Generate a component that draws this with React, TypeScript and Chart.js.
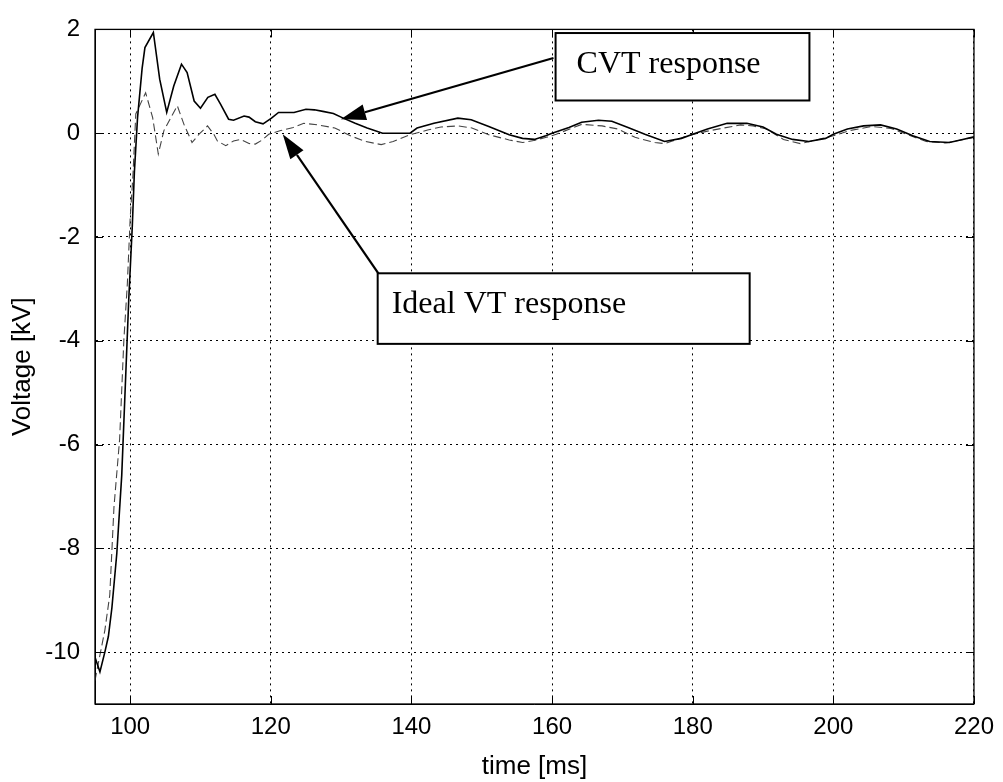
import React, { useEffect, useRef } from "react";
import { Chart, registerables } from "chart.js";

Chart.register(...registerables);

// CVT secondary voltage (solid trace)
const cvtTime = [
  95.0, 95.7, 96.4, 96.9, 97.4, 98.1, 98.8, 99.3, 99.8, 100.3, 100.6, 101.05,
  101.7, 102.1, 103.3, 104.2, 105.2, 106.2, 107.3, 108.1, 109.1, 110.0, 111.05,
  112.05, 112.85, 114.0, 114.7, 116.2, 116.9, 117.8, 118.9, 120.1, 121.1, 123.3,
  125.0, 126.2, 127.4, 128.9, 130.3, 132.0, 133.7, 135.9, 139.8, 140.8, 143.2,
  146.6, 148.5, 151.0, 153.9, 155.8, 157.5, 159.1, 160.0, 162.4, 164.2, 166.6,
  168.5, 170.8, 173.2, 176.0, 178.4, 180.0, 182.1, 184.9, 187.7, 190.0, 191.9,
  194.2, 196.5, 198.9, 200.0, 202.0, 204.3, 206.7, 209.0, 211.3, 213.7, 216.5,
  218.4, 220.0,
];
const cvtVoltage = [
  -10.1, -10.38, -10.0, -9.7, -9.15, -8.1, -6.6, -4.9, -3.2, -1.8, -0.75, 0.3,
  1.25, 1.65, 1.94, 1.04, 0.4, 0.91, 1.33, 1.17, 0.62, 0.48, 0.69,
  0.75, 0.56, 0.27, 0.25, 0.33, 0.31, 0.22, 0.18, 0.29, 0.4, 0.4,
  0.46, 0.45, 0.42, 0.38, 0.29, 0.19, 0.1, 0.0, 0.0, 0.1, 0.19,
  0.29, 0.26, 0.13, -0.03, -0.1, -0.12, -0.05, 0.0, 0.11, 0.21, 0.25,
  0.23, 0.11, -0.02, -0.16, -0.1, -0.02, 0.08, 0.19, 0.19, 0.12, -0.02,
  -0.12, -0.16, -0.1, -0.02, 0.08, 0.14, 0.16, 0.08, -0.05, -0.16, -0.18,
  -0.12, -0.07,
];

// Ideal VT secondary voltage (dashed trace)
const idealTime = [
  95.0, 95.2, 96.4, 97.1, 97.7, 98.5, 99.1, 99.6, 100.0, 100.4, 100.8, 102.2,
  103.2, 104.0, 104.8, 106.7, 107.65, 108.8, 109.8, 111.0, 111.9, 112.4, 113.6,
  114.7, 115.7, 116.9, 117.8, 118.8, 119.7, 121.4, 123.2, 124.7, 126.7, 129.1,
  131.5, 133.5, 135.7, 137.4, 139.8, 142.3, 144.2, 146.6, 148.6, 151.0, 153.9,
  155.8, 157.4, 159.2, 160.6, 164.2, 167.1, 169.4, 171.8, 174.6, 176.0, 179.3,
  182.1, 186.8, 188.6, 190.5, 192.9, 195.3, 197.6, 200.0, 202.3, 205.5, 208.2,
  210.8, 213.2, 216.0, 218.5, 220.0,
];
const idealVoltage = [
  -10.55, -10.4, -9.58, -8.9, -7.2, -5.9, -4.0, -2.9, -1.65, -0.8, 0.37, 0.78,
  0.3, -0.4, 0.05, 0.53, 0.17, -0.18, -0.02, 0.14, -0.02, -0.15, -0.24,
  -0.15, -0.12, -0.2, -0.21, -0.13, -0.02, 0.05, 0.11, 0.19, 0.16, 0.1,
  -0.06, -0.16, -0.22, -0.16, -0.03, 0.06, 0.12, 0.14, 0.1, -0.03, -0.13,
  -0.18, -0.14, -0.08, -0.02, 0.17, 0.14, 0.08, -0.08, -0.18, -0.2, -0.05,
  0.04, 0.16, 0.14, 0.08, -0.12, -0.2, -0.13, -0.05, 0.05, 0.13, 0.09,
  -0.04, -0.16, -0.19, -0.12, -0.08,
];

const timeTicks = [100, 120, 140, 160, 180, 200, 220];
const voltageTicks = [-10, -8, -6, -4, -2, 0, 2];
const timeMin = 95;
const timeMax = 220;
const voltageMin = -11;
const voltageMax = 2;

// Callout boxes with arrows, anchored in data coordinates
const callouts = [
  {
    text: "CVT response",
    box: { x0: 160.5, x1: 196.6, y0: 1.93, y1: 0.63 },
    tail: { x: 160.2, y: 1.45 },
    tip: { x: 129.96, y: 0.27 },
    inset: 21,
  },
  {
    text: "Ideal VT response",
    box: { x0: 135.2, x1: 188.1, y0: -2.7, y1: -4.06 },
    tail: { x: 135.3, y: -2.7 },
    tip: { x: 121.7, y: -0.02 },
    inset: 14,
  },
];

const toPoints = (xs: number[], ys: number[]) => xs.map((x, i) => ({ x, y: ys[i] }));

const framePlugin = {
  id: "frameAndCallouts",
  afterDatasetsDraw(chart: any) {
    const { ctx, chartArea: a, scales } = chart;
    const xs = scales.x;
    const ys = scales.y;
    ctx.save();

    // axes box
    ctx.setLineDash([]);
    ctx.strokeStyle = "#000";
    ctx.lineWidth = 1.3;
    ctx.strokeRect(a.left, a.top, a.right - a.left, a.bottom - a.top);

    // inward tick marks on all four sides
    const tl = 8;
    ctx.lineWidth = 1;
    ctx.beginPath();
    for (const t of timeTicks) {
      const px = Math.round(xs.getPixelForValue(t)) + 0.5;
      ctx.moveTo(px, a.bottom);
      ctx.lineTo(px, a.bottom - tl);
      ctx.moveTo(px, a.top);
      ctx.lineTo(px, a.top + tl);
    }
    for (const v of voltageTicks) {
      const py = Math.round(ys.getPixelForValue(v)) + 0.5;
      ctx.moveTo(a.left, py);
      ctx.lineTo(a.left + tl, py);
      ctx.moveTo(a.right, py);
      ctx.lineTo(a.right - tl, py);
    }
    ctx.stroke();

    // callouts
    for (const c of callouts) {
      const l = xs.getPixelForValue(c.box.x0);
      const r = xs.getPixelForValue(c.box.x1);
      const t = ys.getPixelForValue(c.box.y0);
      const b = ys.getPixelForValue(c.box.y1);
      ctx.fillStyle = "#fff";
      ctx.fillRect(l, t, r - l, b - t);
      ctx.strokeStyle = "#000";
      ctx.lineWidth = 2;
      ctx.strokeRect(l, t, r - l, b - t);

      ctx.fillStyle = "#000";
      ctx.font = '32px "Liberation Serif", "Times New Roman", serif';
      ctx.textAlign = "left";
      ctx.textBaseline = "alphabetic";
      ctx.fillText(c.text, l + c.inset, t + 40);

      const x0 = xs.getPixelForValue(c.tail.x);
      const y0 = ys.getPixelForValue(c.tail.y);
      const x1 = xs.getPixelForValue(c.tip.x);
      const y1 = ys.getPixelForValue(c.tip.y);
      const ang = Math.atan2(y1 - y0, x1 - x0);
      const headLen = 25;
      const headHalf = 8;
      const bx = x1 - headLen * Math.cos(ang);
      const by = y1 - headLen * Math.sin(ang);
      ctx.lineWidth = 2.2;
      ctx.beginPath();
      ctx.moveTo(x0, y0);
      ctx.lineTo(bx, by);
      ctx.stroke();
      ctx.beginPath();
      ctx.moveTo(x1, y1);
      ctx.lineTo(bx + headHalf * Math.sin(ang), by - headHalf * Math.cos(ang));
      ctx.lineTo(bx - headHalf * Math.sin(ang), by + headHalf * Math.cos(ang));
      ctx.closePath();
      ctx.fill();
    }
    ctx.restore();
  },
};

const sansFont = '"Liberation Sans", Arial, Helvetica, sans-serif';

export default function App() {
  const canvasRef = useRef<HTMLCanvasElement | null>(null);

  useEffect(() => {
    if (!canvasRef.current) return;
    const chart = new Chart(canvasRef.current, {
      type: "line",
      data: {
        datasets: [
          {
            label: "CVT response",
            data: toPoints(cvtTime, cvtVoltage),
            borderColor: "#000",
            borderWidth: 1.6,
            pointRadius: 0,
            tension: 0,
            fill: false,
          },
          {
            label: "Ideal VT response",
            data: toPoints(idealTime, idealVoltage),
            borderColor: "#444",
            borderWidth: 1.1,
            borderDash: [8, 4],
            pointRadius: 0,
            tension: 0,
            fill: false,
          },
        ],
      },
      options: {
        animation: false,
        responsive: false,
        devicePixelRatio: 1,
        layout: { padding: { top: 20, right: 26, left: 0, bottom: 0 } },
        plugins: {
          legend: { display: false },
          tooltip: { enabled: false },
        },
        scales: {
          x: {
            type: "linear",
            min: timeMin,
            max: timeMax,
            afterBuildTicks: (s: any) => {
              s.ticks = timeTicks.map((v) => ({ value: v }));
            },
            afterFit: (s: any) => {
              s.height = 78;
            },
            grid: { color: "#000", lineWidth: 1, drawTicks: false },
            border: { display: true, color: "#000", width: 1, dash: [2, 4] },
            ticks: {
              autoSkip: false,
              maxRotation: 0,
              padding: 9,
              color: "#000",
              font: { family: sansFont, size: 24 },
            },
            title: {
              display: true,
              text: "time [ms]",
              color: "#000",
              font: { family: sansFont, size: 26 },
              padding: { top: 0, bottom: 0 },
            },
          },
          y: {
            type: "linear",
            min: voltageMin,
            max: voltageMax,
            afterBuildTicks: (s: any) => {
              s.ticks = voltageTicks.map((v) => ({ value: v }));
            },
            afterFit: (s: any) => {
              s.width = 95;
            },
            grid: { color: "#000", lineWidth: 1, drawTicks: false },
            border: { display: true, color: "#000", width: 1, dash: [2, 4] },
            ticks: {
              padding: 15,
              color: "#000",
              font: { family: sansFont, size: 24 },
            },
            title: {
              display: true,
              text: "Voltage [kV]",
              color: "#000",
              font: { family: sansFont, size: 26 },
              padding: { top: 7, bottom: 0 },
            },
          },
        },
      },
      plugins: [framePlugin],
    } as any);
    return () => chart.destroy();
  }, []);

  return (
    <div style={{ position: "absolute", left: 0, top: 0, width: 1003, height: 782, background: "#fff" }}>
      <canvas ref={canvasRef} width={1003} height={782} style={{ display: "block" }} />
    </div>
  );
}
